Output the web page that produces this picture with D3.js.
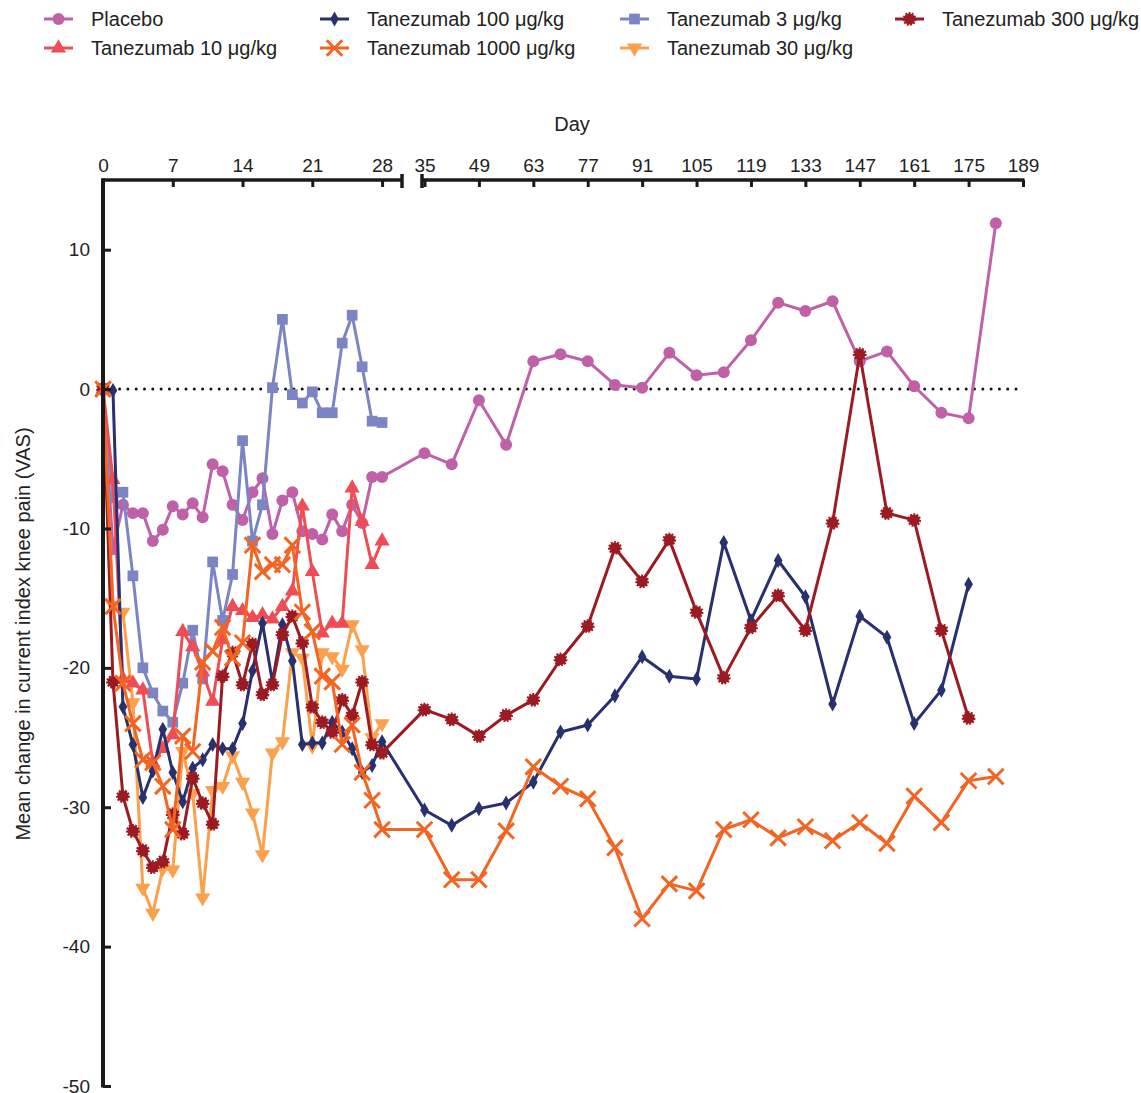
<!DOCTYPE html>
<html>

<head>
    <meta charset="utf-8">
    <style>
        body {
            margin: 0;
            background: #fff;
            font-family: 'Liberation Sans', Arial, sans-serif;
        }

        svg {
            display: block;
        }

        .tick text {
            font-size: 19px;
            fill: #222;
        }

        .tick line {
            stroke: #1a1a1a;
            stroke-width: 3;
        }

        .axis-line {
            stroke: #1a1a1a;
            stroke-width: 3.5;
        }

        .legend text,
        .label {
            font-size: 20px;
            fill: #222;
        }
    </style>
</head>

<body>
    <svg width="1141" height="1093"></svg>

    <script src="https://d3js.org/d3.v7.min.js"></script>
    <script>
        // days measured daily for the first 4 weeks, then weekly
        let daysEarly = [0, 1, 2, 3, 4, 5, 6, 7, 8, 9, 10, 11, 12, 13, 14, 15, 16, 17, 18, 19, 20, 21, 22, 23, 24, 25, 26, 27, 28]
        let daysLate = [35, 42, 49, 56, 63, 70, 77, 84, 91, 98, 105, 112, 119, 126, 133, 140, 147, 154, 161, 168, 175, 182]

        let ticksEarly = [0, 7, 14, 21, 28]
        let ticksLate = [35, 49, 63, 77, 91, 105, 119, 133, 147, 161, 175, 189]
        let ticksY = [10, 0, -10, -20, -30, -40, -50]

        // legend order
        let seriesNames = [
            "Placebo",
            "Tanezumab 10 \u03bcg/kg",
            "Tanezumab 100 \u03bcg/kg",
            "Tanezumab 1000 \u03bcg/kg",
            "Tanezumab 3 \u03bcg/kg",
            "Tanezumab 30 \u03bcg/kg",
            "Tanezumab 300 \u03bcg/kg"
        ]

        let placeboEarly = [0, -11.5, -8.3, -8.9, -8.9, -10.9, -10.1, -8.4, -9.0, -8.2, -9.2, -5.4, -5.9, -8.3, -9.4,
            -7.4, -6.4, -10.4, -8.0, -7.4, -10.2, -10.4, -10.8, -9.0, -10.2, -8.3, -9.6, -6.3, -6.3]
        let placeboLate = [-4.6, -5.4, -0.8, -4.0, 2.0, 2.5, 2.0, 0.3, 0.1, 2.6, 1.0, 1.2, 3.5, 6.2, 5.6, 6.3, 2.0, 2.7,
            0.2, -1.7, -2.1, 11.9]

        let t10Early = [0, -6.5, -20.8, -21.1, -21.6, -26.8, -25.8, -24.8, -17.4, -18.5, -20.3, -22.4, -18.0, -15.6, -15.9,
            -16.4, -16.2, -16.5, -15.6, -14.5, -8.4, -13.1, -17.5, -16.8, -16.8, -7.1, -9.5, -12.6, -10.9]
        let t10Late = []

        let t100Early = [0, -0.1, -22.8, -25.5, -29.3, -27.4, -24.4, -27.5, -29.6, -27.2, -26.6, -25.5, -25.8, -25.8, -24.0,
            -20.2, -16.8, -21.0, -16.9, -19.5, -25.5, -25.4, -25.4, -23.9, -24.6, -25.8, -27.5, -27.0, -25.3]
        let t100Late = [-30.2, -31.3, -30.1, -29.7, -28.2, -24.6, -24.1, -22.0, -19.2, -20.6, -20.8, -11.0, -16.6, -12.3,
            -14.9, -22.6, -16.3, -17.8, -24.0, -21.6, -14.0]

        let t1000Early = [0, -15.6, -21.1, -24.0, -26.6, -26.8, -28.5, -31.6, -24.9, -26.0, -19.6, -18.8, -17.1, -19.3, -18.2,
            -11.2, -13.1, -12.6, -12.6, -11.2, -16.0, -17.4, -20.6, -21.0, -25.5, -24.1, -27.5, -29.5, -31.6]
        let t1000Late = [-31.6, -35.2, -35.2, -31.7, -27.1, -28.5, -29.4, -32.9, -38.0, -35.5, -36.0, -31.6, -30.9, -32.2,
            -31.4, -32.4, -31.1, -32.6, -29.2, -31.1, -28.1, -27.8]

        let t3Early = [0, -7.8, -7.4, -13.4, -20.0, -21.8, -23.1, -23.9, -21.1, -17.3, -20.8, -12.4, -16.6, -13.3, -3.7,
            -10.9, -8.3, 0.1, 5.0, -0.4, -1.0, -0.2, -1.7, -1.7, 3.3, 5.3, 1.6, -2.3, -2.4]
        let t3Late = []

        let t30Early = [0, -15.5, -16.0, -22.5, -35.8, -37.6, -34.4, -34.5, -26.0, -29.0, -36.5, -28.8, -28.5, -26.3, -28.2,
            -30.4, -33.4, -26.1, -25.3, -18.9, -19.3, -25.6, -18.9, -19.2, -20.1, -16.9, -18.7, -25.0, -24.0]
        let t30Late = []

        let t300Early = [0, -21.0, -29.2, -31.7, -33.1, -34.3, -33.9, -30.5, -31.9, -27.9, -29.7, -31.2, -20.6, -18.9, -21.2,
            -18.3, -21.9, -21.2, -17.6, -16.3, -18.2, -22.8, -23.9, -24.6, -22.3, -23.4, -21.0, -25.5, -26.1]
        let t300Late = [-23.0, -23.7, -24.9, -23.4, -22.3, -19.4, -17.0, -11.4, -13.8, -10.8, -16.0, -20.7, -17.1, -14.8,
            -17.3, -9.6, 2.5, -8.9, -9.4, -17.3, -23.6]

        let earlyValues = [placeboEarly, t10Early, t100Early, t1000Early, t3Early, t30Early, t300Early]
        let lateValues = [placeboLate, t10Late, t100Late, t1000Late, t3Late, t30Late, t300Late]

        // styles
        let colors = ["#bf60a9", "#ef4d55", "#28306f", "#f26522", "#7b85c3", "#fba04c", "#9c1b23"]
        let shapes = ["circle", "triangle", "diamond", "times", "square", "triangleDown", "gear"]
        let drawOrder = [0, 4, 5, 1, 2, 6, 3]

        let svg = d3.select("svg")

        let xA = d3.scaleLinear().domain([0, 30]).range([103, 402])
        let xB = d3.scaleLinear().domain([35, 189]).range([424.5, 1023])
        let xDay = d => d <= 30 ? xA(d) : xB(d)

        let y = d3.scaleLinear().domain([-50, 15]).range([1086, 180])

        let series = seriesNames.map((name, i) => {
            let pts = daysEarly.map((d, j) => ({ day: d, v: earlyValues[i][j] }))
                .concat(lateValues[i].map((v, j) => ({ day: daysLate[j], v: v })))
            return { name: name, color: colors[i], shape: shapes[i], values: pts }
        })

        function marker(g, shape, color) {
            if (shape == "circle") {
                g.append("circle").attr("r", 6).attr("fill", color)
            } else if (shape == "gear") {
                g.append("circle").attr("r", 5.6).attr("fill", color)
                    .attr("stroke", color).attr("stroke-width", 2.6)
                    .attr("stroke-dasharray", "1.8 1.3")
            } else if (shape == "times") {
                g.append("path").attr("d", d3.symbol(d3.symbolTimes, 160)())
                    .attr("fill", "none").attr("stroke", color).attr("stroke-width", 3)
            } else if (shape == "square") {
                g.append("path").attr("d", d3.symbol(d3.symbolSquare, 115)()).attr("fill", color)
            } else if (shape == "diamond") {
                g.append("path").attr("d", d3.symbol(d3.symbolDiamond, 65)()).attr("fill", color)
            } else if (shape == "triangle") {
                g.append("path").attr("d", d3.symbol(d3.symbolTriangle, 100)()).attr("fill", color)
            } else if (shape == "triangleDown") {
                g.append("path").attr("d", d3.symbol(d3.symbolTriangle, 100)())
                    .attr("transform", "rotate(180)").attr("fill", color)
            }
        }

        // zero reference line
        svg.append("line")
            .attr("x1", xA(0)).attr("x2", xB(189))
            .attr("y1", y(0)).attr("y2", y(0))
            .attr("stroke", "#111")
            .attr("stroke-width", 3)
            .attr("stroke-linecap", "round")
            .attr("stroke-dasharray", "0 8.3")

        // series
        let line = d3.line()
            .x(d => xDay(d.day))
            .y(d => y(d.v))

        let plot = svg.append("g").attr("class", "series")

        drawOrder.forEach(i => {
            let s = series[i]
            let g = plot.append("g")
            g.append("path")
                .datum(s.values)
                .attr("fill", "none")
                .attr("stroke", s.color)
                .attr("stroke-width", 3)
                .attr("stroke-linejoin", "round")
                .attr("d", line)
            s.values.forEach(p => {
                let m = g.append("g").attr("transform", `translate(${xDay(p.day)},${y(p.v)})`)
                marker(m, s.shape, s.color)
            })
        })

        // axes
        let axisTopY = y(15)

        svg.append("g")
            .attr("transform", `translate(0,${axisTopY})`)
            .call(d3.axisTop(xA).tickValues(ticksEarly).tickSize(-7).tickPadding(8))
            .call(g => g.select(".domain").remove())

        svg.append("g")
            .attr("transform", `translate(0,${axisTopY})`)
            .call(d3.axisTop(xB).tickValues(ticksLate).tickSize(-7).tickPadding(8))
            .call(g => g.select(".domain").remove())

        // broken axis segments
        svg.append("line").attr("class", "axis-line")
            .attr("x1", xA(0) - 1.5).attr("x2", xA(30)).attr("y1", axisTopY).attr("y2", axisTopY)
        svg.append("line").attr("class", "axis-line")
            .attr("x1", xA(30)).attr("x2", xA(30)).attr("y1", axisTopY - 6).attr("y2", axisTopY + 8)
        svg.append("line").attr("class", "axis-line")
            .attr("x1", xB(35) - 2.5).attr("x2", xB(189) + 1.5).attr("y1", axisTopY).attr("y2", axisTopY)
        svg.append("line").attr("class", "axis-line")
            .attr("x1", xB(35) - 2.5).attr("x2", xB(35) - 2.5).attr("y1", axisTopY - 6).attr("y2", axisTopY + 8)

        svg.append("g")
            .attr("transform", `translate(${xA(0)},0)`)
            .call(d3.axisLeft(y).tickValues(ticksY).tickSize(-8).tickPadding(13).tickFormat(d => String(d)))
            .call(g => g.select(".domain").remove())

        svg.selectAll(".tick text").attr("font-family", null).attr("font-size", null)

        svg.append("line").attr("class", "axis-line")
            .style("stroke-width", 4)
            .attr("x1", xA(0)).attr("x2", xA(0)).attr("y1", axisTopY - 1.5).attr("y2", y(-50) + 1.5)

        // labels
        svg.append("text")
            .attr("class", "label")
            .attr("x", 572)
            .attr("y", 131)
            .attr("text-anchor", "middle")
            .text("Day")

        svg.append("text")
            .attr("class", "label")
            .attr("transform", `translate(30,${(y(-50) + axisTopY) / 2 + 1}) rotate(-90)`)
            .attr("text-anchor", "middle")
            .text("Mean change in current index knee pain (VAS)")

        // legend
        let legendX = [44, 320, 620, 895]
        let legendY = [19, 48]

        let legend = svg.append("g").attr("class", "legend")
        series.forEach((s, i) => {
            let g = legend.append("g")
                .attr("transform", `translate(${legendX[Math.floor(i / 2)]},${legendY[i % 2]})`)
            g.append("line")
                .attr("x1", 0).attr("x2", 29)
                .attr("stroke", s.color).attr("stroke-width", 3)
            marker(g.append("g").attr("transform", "translate(14.5,0)"), s.shape, s.color)
            g.append("text")
                .attr("x", 47)
                .attr("dy", "0.35em")
                .text(s.name)
        })
    </script>
</body>

</html>
